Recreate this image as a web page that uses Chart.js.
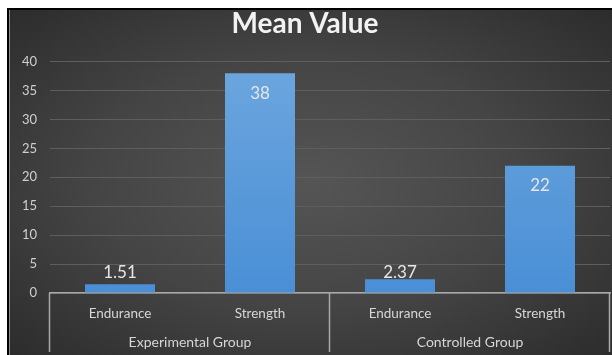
<!DOCTYPE html>
<html>
<head>
<meta charset="utf-8">
<script src="https://cdn.jsdelivr.net/npm/chart.js@4/dist/chart.umd.min.js"></script>
<style>
  html, body { margin: 0; padding: 0; background: #ffffff; }
  body { width: 612px; height: 355px; position: relative; overflow: hidden; }
  #frame {
    position: absolute; left: 7px; top: 8px; width: 605px; height: 347px;
    box-sizing: border-box;
    border-left: 2px solid #000; border-top: 2px solid #000;
    background: radial-gradient(ellipse at 50% 50%, #555555 0%, #454545 50%, #2c2c2c 100%);
    box-shadow: inset 1px 0 0 #8c8c8c;
  }
  #chart { position: absolute; left: 0; top: 0; }
</style>
</head>
<body>
<div id="frame"></div>
<canvas id="chart" width="612" height="355"></canvas>
<script>
// Mean values per measure, grouped by study group
const categories = ['Endurance', 'Strength', 'Endurance', 'Strength'];
const groups = ['Experimental Group', 'Controlled Group'];
const meanValues = [1.51, 38, 2.37, 22];
const valueLabels = ['1.51', '38', '2.37', '22'];
const yTicks = [0, 5, 10, 15, 20, 25, 30, 35, 40];

const FONT = 'Lato, "Open Sans", sans-serif';

// Value labels: inside the top of each bar, but kept above the axis for short bars
const barValueLabels = {
  id: 'barValueLabels',
  afterDatasetsDraw(chart) {
    const ctx = chart.ctx;
    const meta = chart.getDatasetMeta(0);
    const base = chart.scales.y.getPixelForValue(0);
    ctx.save();
    ctx.font = '17px ' + FONT;
    ctx.fillStyle = '#e6e6e6';
    ctx.textAlign = 'center';
    ctx.textBaseline = 'middle';
    meta.data.forEach((bar, i) => {
      const y = Math.min(bar.y + 20, base - 20);
      ctx.fillText(valueLabels[i], bar.x, y);
    });
    ctx.restore();
  }
};

// Separators of the two-level category axis
const groupDividers = {
  id: 'groupDividers',
  afterDraw(chart) {
    const ctx = chart.ctx;
    const x = chart.scales.x;
    const base = chart.scales.y.getPixelForValue(0);
    const bottom = chart.height - 3;
    const edges = [-0.5, 1.5, 3.5].map(v => x.getPixelForValue(v));
    ctx.save();
    ctx.strokeStyle = '#a8a8a8';
    ctx.lineWidth = 1.5;
    edges.forEach(px => {
      const p = Math.round(px) - 0.5;
      ctx.beginPath();
      ctx.moveTo(p, base);
      ctx.lineTo(p, bottom);
      ctx.stroke();
    });
    ctx.restore();
  }
};

new Chart(document.getElementById('chart'), {
  type: 'bar',
  data: {
    labels: categories,
    datasets: [{
      data: meanValues,
      backgroundColor(context) {
        const area = context.chart.chartArea;
        if (!area) return '#5b9bd5';
        const g = context.chart.ctx.createLinearGradient(0, area.top, 0, area.bottom);
        g.addColorStop(0, '#6ca6de');
        g.addColorStop(1, '#4a8fd6');
        return g;
      },
      borderWidth: 0,
      categoryPercentage: 1,
      barPercentage: 0.5
    }]
  },
  options: {
    responsive: false,
    animation: false,
    layout: { padding: { left: 0, right: 2, top: 0, bottom: 0 } },
    plugins: {
      legend: { display: false },
      tooltip: { enabled: false },
      title: {
        display: true,
        text: 'Mean Value',
        color: '#f2f2f2',
        font: { family: FONT, size: 28, weight: 'bold' },
        padding: { top: 7, bottom: 21 }
      }
    },
    scales: {
      x: {
        type: 'category',
        position: 'bottom',
        grid: { display: false },
        border: { display: true, color: '#a8a8a8', width: 1.5 },
        ticks: { color: '#d6d6d6', font: { family: FONT, size: 13.5 }, padding: 5 },
        afterFit(scale) { scale.height = 33; }
      },
      x2: {
        type: 'category',
        position: 'bottom',
        labels: groups,
        grid: { display: false },
        border: { display: false },
        ticks: { color: '#d6d6d6', font: { family: FONT, size: 14 }, padding: 0 },
        afterFit(scale) { scale.height = 29; }
      },
      y: {
        min: 0,
        max: 40,
        afterBuildTicks(scale) { scale.ticks = yTicks.map(v => ({ value: v })); },
        grid: { color: '#5e5e5e', drawTicks: false, lineWidth: 1 },
        border: { display: false },
        ticks: { color: '#cfcfcf', font: { family: FONT, size: 13 }, padding: 13 },
        afterFit(scale) { scale.width = 50; }
      }
    }
  },
  plugins: [barValueLabels, groupDividers]
});
</script>
</body>
</html>
